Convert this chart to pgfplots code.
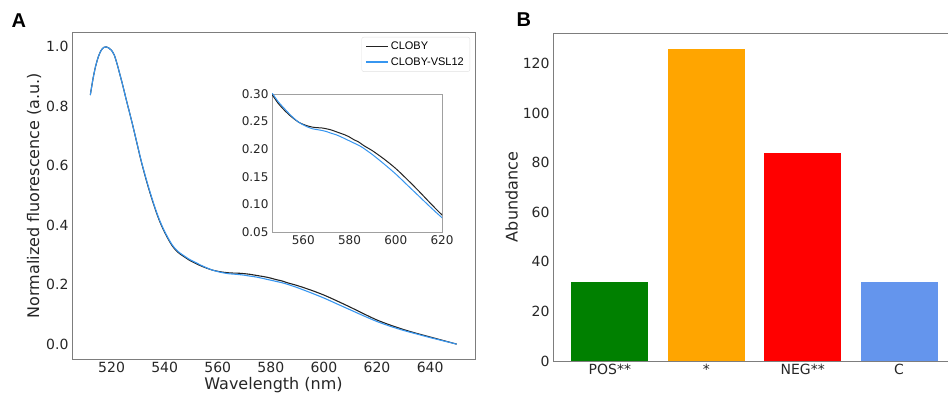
\documentclass[border=0pt]{standalone}
\usepackage{fontspec}
\setmainfont{DejaVu Sans}
\newfontfamily\arialfont{Liberation Sans}
\usepackage{pgfplots}
\usepackage{pgfplotstable}
\pgfplotsset{compat=1.18}
\definecolor{cloby}{RGB}{35,35,35}
\definecolor{vsl}{RGB}{55,150,240}
\definecolor{framec}{RGB}{125,125,125}
\definecolor{insetc}{RGB}{160,160,160}
\definecolor{bgreen}{RGB}{0,128,0}
\definecolor{borange}{RGB}{255,165,0}
\definecolor{bred}{RGB}{255,0,0}
\definecolor{bblue}{RGB}{100,149,237}

\pgfplotstableread{
x y
512 0.838
513 0.892
514 0.935
515 0.966
516 0.987
517 0.998
518 1.000
519 0.996
520 0.988
521 0.973
522 0.945
523 0.912
524 0.878
525 0.842
526 0.806
527 0.771
528 0.735
529 0.697
530 0.659
531 0.621
532 0.587
533 0.554
534 0.523
535 0.494
536 0.466
537 0.440
538 0.416
539 0.395
540 0.376
541 0.359
542 0.343
543 0.329
544 0.318
545 0.309
546 0.302
547 0.296
548 0.290
549 0.284
550 0.279
552 0.270
554 0.262
556 0.255
558 0.249
560 0.245
562 0.242
564 0.240
566 0.239
568 0.2385
570 0.237
572 0.235
574 0.232
576 0.229
578 0.226
580 0.222
582 0.217
584 0.213
586 0.207
588 0.202
590 0.197
595 0.182
600 0.165
605 0.145
610 0.124
615 0.102
620 0.081
625 0.064
630 0.049
635 0.036
640 0.024
645 0.012
650 0.000
}\clobytab

\pgfplotstableread{
x y
512 0.838
513 0.892
514 0.935
515 0.966
516 0.987
517 0.998
518 1.000
519 0.996
520 0.988
521 0.973
522 0.945
523 0.912
524 0.878
525 0.842
526 0.806
527 0.771
528 0.735
529 0.698
530 0.660
531 0.623
532 0.589
533 0.557
534 0.526
535 0.497
536 0.469
537 0.443
538 0.419
539 0.398
540 0.379
541 0.362
542 0.346
543 0.332
544 0.321
545 0.312
546 0.305
547 0.299
548 0.293
549 0.287
550 0.282
552 0.273
554 0.264
556 0.256
558 0.249
560 0.244
562 0.240
564 0.237
566 0.2355
568 0.234
570 0.232
572 0.229
574 0.2265
576 0.223
578 0.219
580 0.215
582 0.211
584 0.207
586 0.202
588 0.196
590 0.190
595 0.173
600 0.155
605 0.135
610 0.115
615 0.095
620 0.076
625 0.060
630 0.046
635 0.034
640 0.022
645 0.011
650 0.000
}\vsltab

\pgfplotsset{
  base/.style={
    scale only axis,
    axis line style={framec, line width=0.9pt},
    major tick length=0pt,
    tick style={draw=none},
    /pgf/number format/assume math mode=true,
    tick label style={text=black!85},
    label style={font=\fontsize{16}{19}\selectfont, text=black!85},
  }
}

\begin{document}
\begin{tikzpicture}
\useasboundingbox (0pt,0pt) rectangle (948pt,398pt);

% Panel A main axis
\begin{axis}[base,
  at={(72pt,39pt)}, anchor=south west,
  width=403pt, height=327pt,
  xmin=505.1, xmax=656.9, ymin=-0.05, ymax=1.05,
  xtick={520,540,560,580,600,620,640},
  ytick={0,0.2,0.4,0.6,0.8,1.0},
  tick label style={font=\fontsize{14}{16}\selectfont},
  yticklabel style={/pgf/number format/.cd, fixed, fixed zerofill, precision=1},
  xticklabel style={/pgf/number format/.cd, set thousands separator={}},
  xlabel={Wavelength (nm)},
  ylabel={Normalized fluorescence (a.u.)},
  xlabel style={yshift=3pt},
  ylabel style={yshift=-2pt},
  legend style={at={(1,1)}, anchor=north east, xshift=-5pt, yshift=-5pt,
    draw=black!12, rounded corners=2pt,
    font=\arialfont\fontsize{11}{13}\selectfont,
    inner xsep=4pt, inner ysep=3pt, row sep=2pt},
  legend cell align=left,
  legend image code/.code={\draw[#1] (0pt,0pt) -- (22pt,0pt);},
]
\addplot[cloby, line width=1.1pt, smooth] table[x=x, y=y] {\clobytab};
\addlegendentry{CLOBY}
\addplot[vsl, line width=1.1pt, smooth] table[x=x, y=y] {\vsltab};
\addlegendentry{CLOBY-VSL12}
\end{axis}

% Inset
\begin{axis}[base,
  at={(272pt,166pt)}, anchor=south west,
  width=170pt, height=138pt,
  axis line style={insetc, line width=0.9pt},
  xmin=546.5, xmax=620, ymin=0.05, ymax=0.30,
  xtick={560,580,600,620},
  ytick={0.05,0.10,0.15,0.20,0.25,0.30},
  tick label style={font=\fontsize{12}{14}\selectfont},
  yticklabel style={/pgf/number format/.cd, fixed, fixed zerofill, precision=2},
  xticklabel style={/pgf/number format/.cd, set thousands separator={}},
  axis background/.style={fill=white},
]
\addplot[cloby, line width=1.0pt, smooth] table[x=x, y=y] {\clobytab};
\addplot[vsl, line width=1.0pt, smooth] table[x=x, y=y] {\vsltab};
\end{axis}

% Panel B
\begin{axis}[base,
  at={(553pt,37pt)}, anchor=south west,
  width=403pt, height=328pt,
  xmin=-0.59, xmax=3.59, ymin=0, ymax=132.3,
  xtick={0,1,2,3},
  xticklabels={POS**, *, NEG**, C},
  ytick={0,20,40,60,80,100,120},
  tick label style={font=\fontsize{14}{16}\selectfont},
  ylabel={Abundance},
  ylabel style={yshift=-2pt},
]
\addplot[ybar, bar width=0.8, bar shift=0pt, fill=bgreen, draw=none] coordinates {(0,32)};
\addplot[ybar, bar width=0.8, bar shift=0pt, fill=borange, draw=none] coordinates {(1,126)};
\addplot[ybar, bar width=0.8, bar shift=0pt, fill=bred, draw=none] coordinates {(2,84)};
\addplot[ybar, bar width=0.8, bar shift=0pt, fill=bblue, draw=none] coordinates {(3,32)};
\end{axis}

\node[anchor=west, font=\arialfont\bfseries\fontsize{20}{22}\selectfont] at (8pt,377pt) {A};
\node[anchor=west, font=\arialfont\bfseries\fontsize{20}{22}\selectfont] at (513pt,378pt) {B};
\end{tikzpicture}
\end{document}
